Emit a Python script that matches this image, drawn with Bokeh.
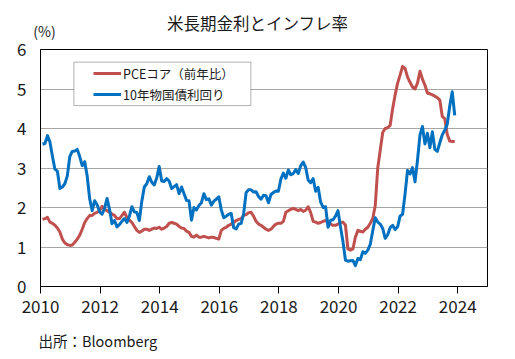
from bokeh.plotting import figure
from bokeh.models import (FixedTicker, Legend, LegendItem, BoxAnnotation, Label,
                          ColumnDataSource, Range1d)
from bokeh.embed import file_html
from bokeh.resources import INLINE

# ---- data (monthly, Jan 2010 - Nov 2023) ----
start_year = 2010
ust10y = [
    3.60, 3.62, 3.82, 3.66, 3.30, 2.97, 2.92, 2.48, 2.52, 2.60, 2.80, 3.29,
    3.42, 3.43, 3.47, 3.29, 3.06, 3.16, 2.80, 2.22, 1.92, 2.17, 2.07, 1.89,
    1.83, 1.98, 2.23, 1.95, 1.59, 1.67, 1.51, 1.57, 1.65, 1.72, 1.62, 1.78,
    2.02, 1.89, 1.87, 1.67, 2.16, 2.52, 2.60, 2.78, 2.64, 2.57, 2.75, 3.04,
    2.67, 2.66, 2.73, 2.67, 2.48, 2.53, 2.58, 2.35, 2.52, 2.35, 2.18, 2.17,
    1.68, 2.00, 1.94, 2.05, 2.12, 2.35, 2.20, 2.22, 2.06, 2.16, 2.21, 2.27,
    1.94, 1.74, 1.78, 1.83, 1.85, 1.49, 1.46, 1.58, 1.60, 1.84, 2.38, 2.45,
    2.45, 2.39, 2.40, 2.28, 2.21, 2.31, 2.30, 2.12, 2.33, 2.38, 2.42, 2.41,
    2.72, 2.87, 2.74, 2.95, 2.83, 2.86, 2.96, 2.86, 3.06, 3.15, 3.01, 2.69,
    2.63, 2.73, 2.41, 2.51, 2.14, 2.00, 2.02, 1.50, 1.68, 1.69, 1.78, 1.92,
    1.51, 1.13, 0.67, 0.64, 0.65, 0.66, 0.53, 0.71, 0.68, 0.88, 0.84, 0.92,
    1.07, 1.41, 1.74, 1.63, 1.58, 1.47, 1.22, 1.31, 1.49, 1.55, 1.44, 1.51,
    1.78, 1.83, 2.34, 2.94, 2.85, 3.01, 2.65, 3.19, 3.83, 4.05, 3.61, 3.88,
    3.51, 3.92, 3.47, 3.42, 3.64, 3.84, 3.96, 4.11, 4.57, 4.93, 4.33,
]
core_pce = [
    1.70, 1.72, 1.75, 1.63, 1.60, 1.55, 1.48, 1.38, 1.20, 1.10, 1.06, 1.04,
    1.05, 1.12, 1.20, 1.30, 1.45, 1.62, 1.72, 1.80, 1.80, 1.85, 1.88, 1.92,
    2.03, 1.95, 1.92, 1.88, 1.83, 1.80, 1.72, 1.72, 1.80, 1.88, 1.75, 1.68,
    1.62, 1.52, 1.42, 1.37, 1.40, 1.45, 1.45, 1.42, 1.45, 1.48, 1.47, 1.50,
    1.45, 1.48, 1.52, 1.60, 1.62, 1.60, 1.58, 1.52, 1.48, 1.47, 1.40, 1.37,
    1.27, 1.25, 1.30, 1.25, 1.25, 1.27, 1.25, 1.23, 1.25, 1.24, 1.22, 1.20,
    1.42, 1.47, 1.50, 1.55, 1.58, 1.62, 1.67, 1.70, 1.72, 1.80, 1.82, 1.87,
    1.88, 1.78, 1.65, 1.58, 1.55, 1.50, 1.45, 1.42, 1.45, 1.52, 1.58, 1.60,
    1.60, 1.65, 1.88, 1.92, 1.95, 1.98, 1.95, 1.92, 1.95, 1.90, 1.93, 2.02,
    1.87, 1.65, 1.63, 1.60, 1.62, 1.65, 1.67, 1.62, 1.58, 1.55, 1.55, 1.58,
    1.62, 1.63, 1.55, 0.95, 0.92, 0.95, 1.25, 1.42, 1.40, 1.38, 1.45, 1.50,
    1.60, 1.72, 2.05, 3.00, 3.45, 3.90, 4.00, 4.02, 4.08, 4.50, 4.85, 5.15,
    5.35, 5.57, 5.52, 5.30, 5.17, 5.05, 5.00, 5.15, 5.45, 5.25, 5.10, 4.90,
    4.88, 4.85, 4.82, 4.78, 4.72, 4.30, 4.25, 3.85, 3.68, 3.67, 3.67,
]
x_ticks = [2010, 2012, 2014, 2016, 2018, 2020, 2022, 2024]
y_ticks = [0, 1, 2, 3, 4, 5, 6]
title_text = "米長期金利とインフレ率"
unit_text = "(%)"
source_text = "出所：Bloomberg"
label_pce = "PCEコア（前年比）"
label_ust = "10年物国債利回り"

# month positions (month-end style)
dates = [start_year + (i + 0.8) / 12 for i in range(len(ust10y))]
src = ColumnDataSource(dict(x=dates, ust=ust10y, pce=core_pce))

FONT = "Noto Sans CJK JP"
TXT = "#1a1a1a"
RED = "#C0504D"
BLUE = "#0070C0"

p = figure(frame_width=447, frame_height=237, output_backend="svg", toolbar_location=None,
           x_range=Range1d(2010, 2025), y_range=Range1d(0, 6),
           min_border_left=40, min_border_right=20, min_border_top=49, min_border_bottom=66)
p.outline_line_color = "black"
p.outline_line_width = 1
p.background_fill_color = "white"
p.border_fill_color = "white"

p.xgrid.visible = False
p.ygrid.grid_line_color = "#A6A6A6"
p.ygrid.grid_line_width = 1
p.ygrid.ticker = FixedTicker(ticks=y_ticks)

p.xaxis.ticker = FixedTicker(ticks=x_ticks)
p.xaxis.major_tick_out = 7
p.xaxis.major_tick_in = 0
p.xaxis.minor_tick_line_color = None
p.xaxis.axis_line_color = "black"
p.xaxis.major_tick_line_color = "black"
p.xaxis.major_label_standoff = 6

p.yaxis.ticker = FixedTicker(ticks=y_ticks)
p.yaxis.major_tick_out = 0
p.yaxis.major_tick_in = 0
p.yaxis.minor_tick_line_color = None
p.yaxis.axis_line_color = "black"
p.yaxis.major_label_standoff = 14

for ax in (p.xaxis, p.yaxis):
    ax.major_label_text_font = FONT
    ax.major_label_text_font_size = "17px"
    ax.major_label_text_color = TXT

r_pce = p.line("x", "pce", source=src, line_color=RED, line_width=3, line_join="round")
r_ust = p.line("x", "ust", source=src, line_color=BLUE, line_width=3, line_join="round")

# legend frame
box = BoxAnnotation(left=2011.12, right=2017.06, bottom=4.58, top=5.68,
                    fill_color="white", fill_alpha=1.0, line_color="black", line_width=1)
p.add_layout(box)

legend = Legend(items=[LegendItem(label=label_pce, renderers=[r_pce]),
                       LegendItem(label=label_ust, renderers=[r_ust])],
                location=(53, 182), padding=0, margin=0, spacing=1,
                glyph_width=28, glyph_height=20, label_height=20, label_standoff=2,
                border_line_alpha=0, background_fill_alpha=0,
                label_text_font=FONT, label_text_font_size="12.5px", label_text_color=TXT)
p.add_layout(legend)

p.add_layout(Label(x=2017.29, y=6.68, text=title_text, text_align="center", text_baseline="middle",
                   text_font=FONT, text_font_size="16.5px", text_color=TXT), "above")
p.add_layout(Label(x=2009.76, y=6.46, text=unit_text, text_align="left", text_baseline="middle",
                   text_font=FONT, text_font_size="14px", text_color=TXT), "above")
p.add_layout(Label(x=2009.93, y=-1.37, text=source_text, text_align="left", text_baseline="middle",
                   text_font=FONT, text_font_size="14.5px", text_color=TXT), "below")

open("out.html", "w").write(file_html(p, INLINE))
